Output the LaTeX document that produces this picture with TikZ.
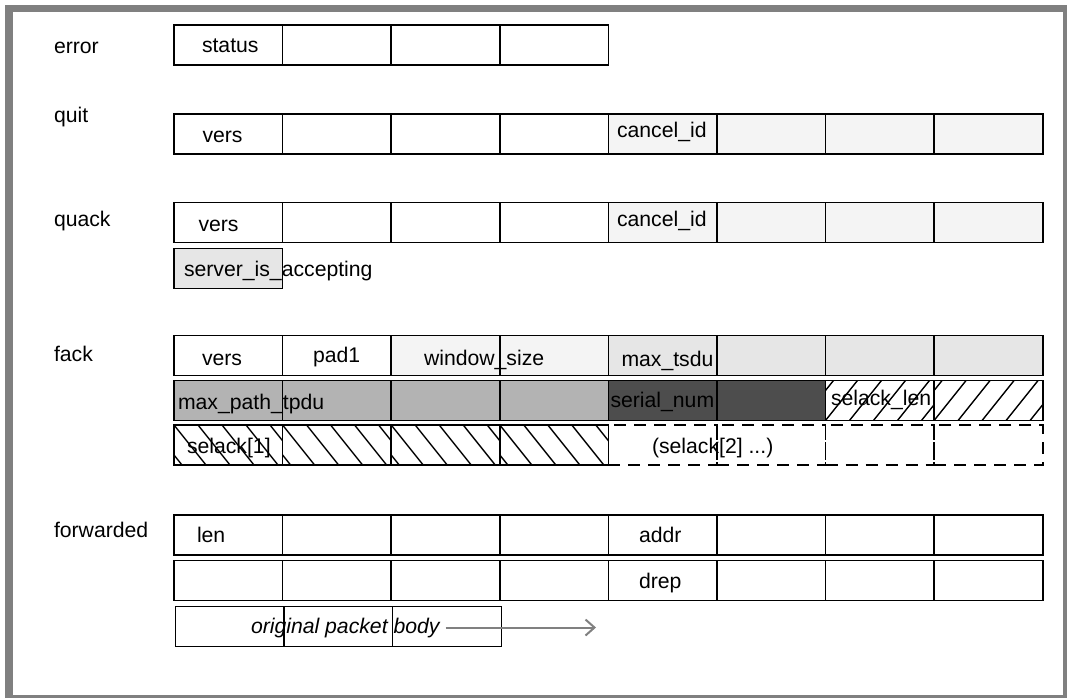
\documentclass[tikz,border=0pt]{standalone}
\usepackage{fontspec}
\setmainfont{Liberation Sans}
\usetikzlibrary{arrows.meta}
\definecolor{framegray}{HTML}{808080}
\definecolor{vlight}{HTML}{F4F4F4}
\definecolor{light}{HTML}{E6E6E6}
\definecolor{mid}{HTML}{B3B3B3}
\definecolor{darkg}{HTML}{4D4D4D}
\tikzset{
  cell/.style={draw=black, line width=1.5pt, minimum width=108.6pt, minimum height=40pt,
    inner sep=0pt, outer sep=0pt, anchor=north west},
  dashcell/.style={cell, dash pattern=on 12pt off 8pt},
  hatchNE/.style={path picture={\foreach \k in {-2,...,5}{\draw[line width=1.4pt] ([xshift=\k*24pt]path picture bounding box.south west) -- ++(32pt,40pt);}}},
  hatchNW/.style={path picture={\foreach \k in {-2,...,5}{\draw[line width=1.4pt] ([xshift=\k*24pt]path picture bounding box.north west) -- ++(32pt,-40pt);}}},
  lbl/.style={anchor=base west, inner sep=0pt, outer sep=0pt, font=\fontsize{21.2}{24}\selectfont},
  arr/.style={draw=framegray, line width=2pt, -{Straight Barb[length=9pt,width=16pt,line width=2pt]}}
}
\begin{document}
\begin{tikzpicture}[x=1pt,y=-1pt]
\useasboundingbox (0,0) rectangle (1067,698);
% frame
\fill[framegray] (5,5) rectangle (1067,12.5);
\fill[framegray] (5,5) rectangle (13,698);
\fill[framegray] (1062.5,5) rectangle (1067,698);
\fill[framegray] (5,695) rectangle (1067,698);

% error
\foreach \i in {0,...,3} \node[cell] (err-\i) at ({174+108.6*\i},25) {};
% quit
\foreach \i in {0,...,3} \node[cell] (quit-\i) at ({174+108.6*\i},114) {};
\foreach \i in {4,...,7} \node[cell, fill=vlight] (quit-\i) at ({174+108.6*\i},114) {};
% quack
\foreach \i in {0,...,3} \node[cell] (quack-\i) at ({174+108.6*\i},202.5) {};
\foreach \i in {4,...,7} \node[cell, fill=vlight] (quack-\i) at ({174+108.6*\i},202.5) {};
\node[cell, fill=light] (srv) at (174,248.5) {};
% fack
\foreach \i in {0,1} \node[cell] (fa-\i) at ({174+108.6*\i},335.7) {};
\foreach \i in {2,3} \node[cell, fill=vlight] (fa-\i) at ({174+108.6*\i},335.7) {};
\foreach \i in {4,...,7} \node[cell, fill=light] (fa-\i) at ({174+108.6*\i},335.7) {};
\foreach \i in {0,...,3} \node[cell, fill=mid] (fb-\i) at ({174+108.6*\i},380.3) {};
\foreach \i in {4,5} \node[cell, fill=darkg] (fb-\i) at ({174+108.6*\i},380.3) {};
\foreach \i in {6,7} \node[cell, fill=white, hatchNE] (fb-\i) at ({174+108.6*\i},380.3) {};
\foreach \i in {0,...,3} \node[cell, fill=white, hatchNW] (fc-\i) at ({174+108.6*\i},425) {};
\foreach \i in {4,...,7} \node[dashcell] (fc-\i) at ({174+108.6*\i},425) {};
% forwarded
\foreach \i in {0,...,7} \node[cell] (fw-\i) at ({174+108.6*\i},515) {};
\foreach \i in {0,...,7} \node[cell] (fx-\i) at ({174+108.6*\i},560.5) {};
\foreach \i in {0,...,2} \node[cell] (body-\i) at ({175.5+108.6*\i},606.5) {};

% row labels
\node[lbl] (t-error) at (54,53.3) {error};
\node[lbl] (t-quit) at (54,123) {quit};
\node[lbl] (t-quack) at (54,226) {quack};
\node[lbl] (t-fack) at (54,361.7) {fack};
\node[lbl] (t-fwd) at (54,537) {forwarded};

% field labels
\node[lbl] (t-status) at (202,52.3) {status};
\node[lbl] (t-vers1) at (202.5,142.7) {vers};
\node[lbl] (t-cid1) at (617,137.3) {cancel\_id};
\node[lbl] (t-vers2) at (198.5,231.7) {vers};
\node[lbl] (t-cid2) at (617,226) {cancel\_id};
\node[lbl] (t-srv) at (184,276) {server\_is\_accepting};
\node[lbl] (t-vers3) at (202,365) {vers};
\node[lbl] (t-pad) at (313,362) {pad1};
\node[lbl] (t-win) at (424,365) {window\_size};
\node[lbl] (t-mts) at (621.5,366.5) {max\_tsdu};
\node[lbl] (t-mpt) at (178,409) {max\_path\_tpdu};
\node[lbl] (t-ser) at (610.5,407) {serial\_num};
\node[lbl] (t-sll) at (831,405) {selack\_len};
\node[lbl] (t-sl1) at (187,453) {selack[1]};
\node[lbl] (t-sl2) at (652,453) {(selack[2] ...)};
\node[lbl] (t-len) at (197,542) {len};
\node[lbl] (t-addr) at (639,542) {addr};
\node[lbl] (t-drep) at (639,588) {drep};
\node[lbl, font=\fontsize{21.2}{24}\selectfont\itshape] (t-body) at (251,633) {original packet body};
\coordinate (arrow-end) at (596,629);
\draw[arr] ([xshift=6pt]t-body.east) -- (arrow-end |- t-body.east);
\end{tikzpicture}
\end{document}
